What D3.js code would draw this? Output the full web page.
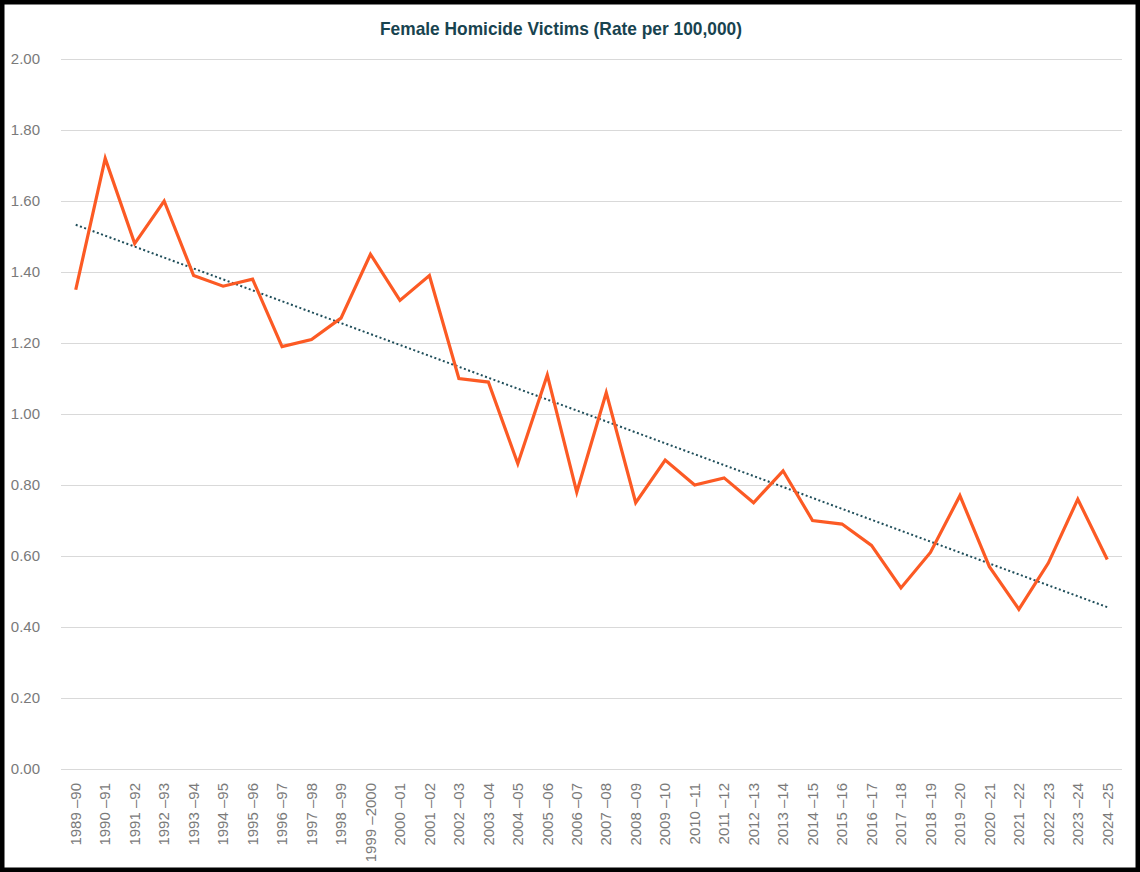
<!DOCTYPE html>
<meta charset="utf-8">
<style>
  body { margin: 0; background: #fff; }
  svg { display: block; }
</style>
<body>
<script src="https://cdn.jsdelivr.net/npm/d3@7"></script>
<script>

var width = 1140,
    height = 872;

// data
var years = ["1989 –90", "1990 –91", "1991 –92", "1992 –93", "1993 –94", "1994 –95",
    "1995 –96", "1996 –97", "1997 –98", "1998 –99", "1999 –2000", "2000 –01",
    "2001 –02", "2002 –03", "2003 –04", "2004 –05", "2005 –06", "2006 –07",
    "2007 –08", "2008 –09", "2009 –10", "2010 –11", "2011 –12", "2012 –13",
    "2013 –14", "2014 –15", "2015 –16", "2016 –17", "2017 –18", "2018 –19",
    "2019 –20", "2020 –21", "2021 –22", "2022 –23", "2023 –24", "2024 –25"];

var rates = [1.35, 1.72, 1.48, 1.60, 1.39, 1.36, 1.38, 1.19, 1.21, 1.27, 1.45, 1.32,
    1.39, 1.10, 1.09, 0.86, 1.11, 0.78, 1.06, 0.75, 0.87, 0.80, 0.82, 0.75,
    0.84, 0.70, 0.69, 0.63, 0.51, 0.61, 0.77, 0.57, 0.45, 0.58, 0.76, 0.59];

var yTicks = [0, 0.2, 0.4, 0.6, 0.8, 1.0, 1.2, 1.4, 1.6, 1.8, 2.0];

var margin = {top: 59, right: 18, bottom: 103, left: 61};

var svg = d3.select("body").append("svg")
    .attr("width", width)
    .attr("height", height);

svg.append("rect")
    .attr("x", 2).attr("y", 2)
    .attr("width", width - 4).attr("height", height - 4)
    .attr("fill", "#fff")
    .attr("stroke", "#000")
    .attr("stroke-width", 5);

var x = d3.scaleBand()
    .domain(years)
    .range([margin.left, width - margin.right]);

var y = d3.scaleLinear()
    .domain([0, 2])
    .range([height - margin.bottom, margin.top]);

var font = "'Liberation Sans Narrow', 'Arial Narrow', 'Liberation Sans', Arial, sans-serif";

// title (condensed look to match the original narrow face)
svg.append("text")
    .attr("x", 561)
    .attr("y", 35)
    .attr("text-anchor", "middle")
    .attr("textLength", 362)
    .attr("lengthAdjust", "spacingAndGlyphs")
    .style("font-family", font)
    .style("font-weight", "bold")
    .style("font-size", "19px")
    .style("fill", "#18434f")
    .text("Female Homicide Victims (Rate per 100,000)");

// y axis + gridlines
var yAxis = d3.axisLeft(y)
    .tickValues(yTicks)
    .tickFormat(d3.format(".2f"))
    .tickSize(-(width - margin.left - margin.right))
    .tickPadding(21);

var gy = svg.append("g")
    .attr("transform", "translate(" + margin.left + ",0)")
    .call(yAxis);

gy.select(".domain").remove();
gy.selectAll(".tick line")
    .attr("stroke", "#d9d9d9")
    .attr("stroke-width", 1);
gy.selectAll(".tick text")
    .style("font-family", font)
    .style("font-size", "15px")
    .style("fill", "#7a7a7a");

// x axis labels
var xAxis = d3.axisBottom(x)
    .tickSize(0)
    .tickPadding(0);

var gx = svg.append("g")
    .attr("transform", "translate(0," + (height - margin.bottom) + ")")
    .call(xAxis);

gx.select(".domain").remove();
gx.selectAll(".tick text")
    .attr("transform", "rotate(-90)")
    .attr("x", -14)
    .attr("y", 0)
    .attr("dy", "0.35em")
    .attr("text-anchor", "end")
    .style("font-family", font)
    .style("font-size", "15px")
    .style("fill", "#7a7a7a");

var cx = function(d, i) { return x(years[i]) + x.bandwidth() / 2; };

// linear trendline (least squares)
var n = rates.length,
    mx = d3.mean(d3.range(n)),
    my = d3.mean(rates);
var slope = d3.sum(rates, function(v, i) { return (i - mx) * (v - my); }) /
    d3.sum(d3.range(n), function(i) { return (i - mx) * (i - mx); });
var intercept = my - slope * mx;

svg.append("line")
    .attr("x1", cx(null, 0))
    .attr("y1", y(intercept))
    .attr("x2", cx(null, n - 1))
    .attr("y2", y(intercept + slope * (n - 1)))
    .attr("stroke", "#1f4e5a")
    .attr("stroke-width", 2)
    .attr("stroke-dasharray", "2,2.5");

// series line
var line = d3.line()
    .x(function(d, i) { return cx(d, i); })
    .y(function(d) { return y(d); });

svg.append("path")
    .datum(rates)
    .attr("d", line)
    .attr("fill", "none")
    .attr("stroke", "#fc5a24")
    .attr("stroke-width", 3.2)
    .attr("stroke-linejoin", "miter");

</script>
